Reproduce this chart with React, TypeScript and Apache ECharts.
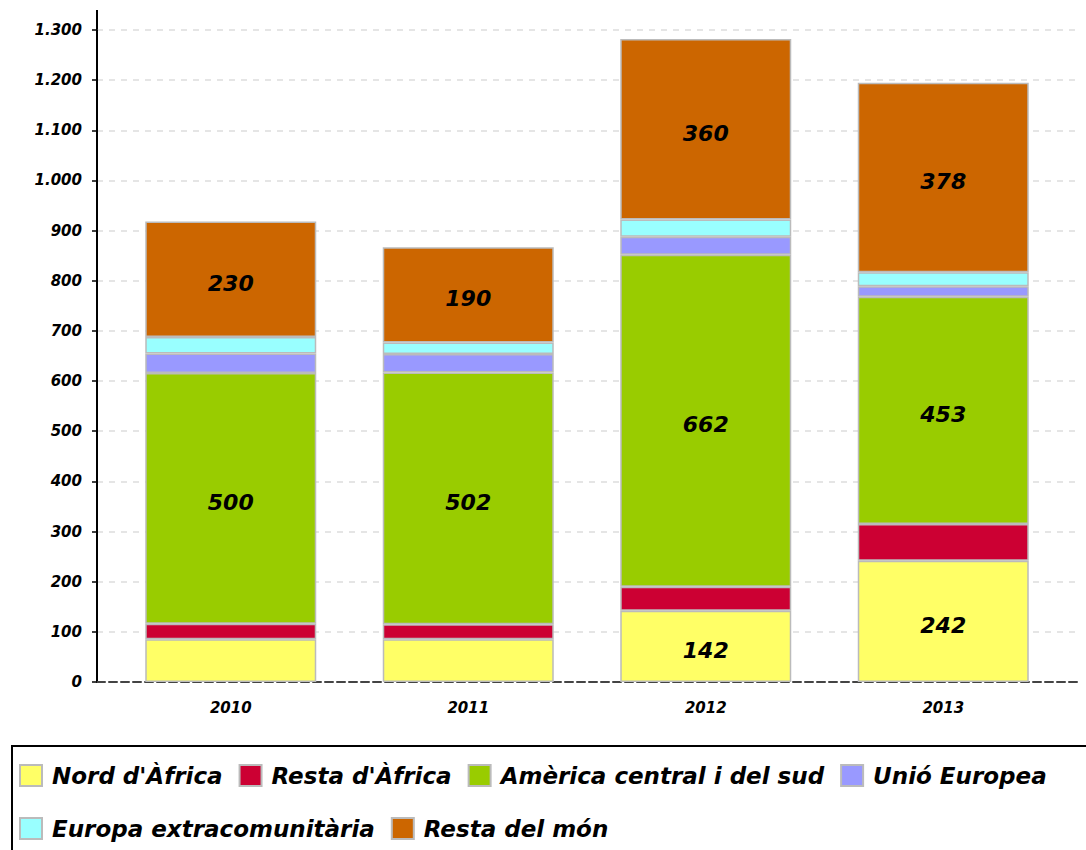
import React, { useEffect, useRef } from "react";
import * as echarts from "echarts";

const years = ["2010", "2011", "2012", "2013"];
const seriesNames = [
  "Nord d'Àfrica",
  "Resta d'Àfrica",
  "Amèrica central i del sud",
  "Unió Europea",
  "Europa extracomunitària",
  "Resta del món",
];
const nordAfrica = [85, 85, 142, 242];
const restaAfrica = [31, 30, 48, 73];
const americaCentralSud = [500, 502, 662, 453];
const unioEuropea = [39, 37, 36, 21];
const europaExtra = [33, 23, 34, 28];
const restaMon = [230, 190, 360, 378];
const colors = ["#FFFF66", "#CC0033", "#99CC00", "#9999FF", "#99FFFF", "#CC6600"];
const yTicks = { min: 0, max: 1300, interval: 100 };

const FONT = "DejaVu Sans";

function fmtThousands(v: number): string {
  return String(v).replace(/\B(?=(\d{3})+(?!\d))/g, ".");
}

export default function App() {
  const ref = useRef<HTMLDivElement>(null);
  useEffect(() => {
    if (!ref.current) return;
    const chart = echarts.init(ref.current, null, { renderer: "svg" });
    const values = [nordAfrica, restaAfrica, americaCentralSud, unioEuropea, europaExtra, restaMon];
    const series = values.map((vals, i) => ({
      name: seriesNames[i],
      type: "bar",
      stack: "total",
      xAxisIndex: 1,
      yAxisIndex: 1,
      barWidth: "72%",
      data: vals,
      itemStyle: { color: colors[i], borderColor: "#bbbbbb", borderWidth: 1.5 },
      label: {
        show: true,
        position: "inside",
        offset: [0, 4],
        formatter: (p: any) => (p.value >= 100 ? String(p.value) : ""),
        color: "#000",
        fontFamily: FONT,
        fontWeight: "bold",
        fontStyle: "italic",
        fontSize: 22,
      },
    }));
    const legendCommon = {
      orient: "horizontal",
      padding: 0,
      itemWidth: 22,
      itemHeight: 21,
      itemGap: 16,
      icon: "rect",
      textStyle: {
        fontFamily: FONT,
        fontWeight: "bold",
        fontStyle: "italic",
        fontSize: 23,
        color: "#000",
        padding: [0, 0, 0, 5],
      },
    };
    chart.setOption({
      animation: false,
      backgroundColor: "#ffffff",
      grid: [
        { left: 97, right: 6, top: 30, bottom: 168 },
        { left: 112, right: 24, top: 30, bottom: 168 },
      ],
      xAxis: [
        {
          type: "value",
          gridIndex: 0,
          min: 0,
          max: 1,
          axisLine: { show: true, lineStyle: { color: "#444", width: 2, type: "dashed" } },
          axisTick: { show: false },
          axisLabel: { show: false },
          splitLine: { show: false },
        },
        {
          type: "category",
          gridIndex: 1,
          data: years,
          axisLine: { show: false },
          axisTick: { show: false },
          axisLabel: {
            margin: 18,
            fontFamily: FONT,
            fontWeight: "bold",
            fontStyle: "italic",
            fontSize: 15,
            color: "#000",
          },
        },
      ],
      yAxis: [
        {
          type: "value",
          gridIndex: 0,
          min: yTicks.min,
          max: yTicks.max,
          interval: yTicks.interval,
          axisLine: { show: true, lineStyle: { color: "#000", width: 2 } },
          axisTick: { show: true, length: 5, lineStyle: { color: "#000", width: 1.5 } },
          axisLabel: {
            margin: 15,
            formatter: (v: number) => fmtThousands(v),
            fontFamily: FONT,
            fontWeight: "bold",
            fontStyle: "italic",
            fontSize: 15,
            color: "#000",
          },
          splitLine: { show: true, lineStyle: { color: "#dddddd", type: [6, 6], width: 1.5 } },
        },
        {
          type: "value",
          gridIndex: 1,
          min: yTicks.min,
          max: yTicks.max,
          interval: yTicks.interval,
          show: false,
          splitLine: { show: false },
        },
      ],
      legend: [
        { ...legendCommon, data: seriesNames.slice(0, 4), left: 19, top: 764 },
        { ...legendCommon, data: seriesNames.slice(4), left: 19, top: 817 },
      ],
      graphic: [
        {
          type: "line",
          shape: { x1: 97, y1: 10, x2: 97, y2: 31 },
          style: { stroke: "#000", lineWidth: 2 },
        },
        {
          type: "rect",
          shape: { x: 12, y: 746, width: 1100, height: 130 },
          style: { fill: "none", stroke: "#000", lineWidth: 2 },
        },
      ],
      series,
    });
    return () => chart.dispose();
  }, []);
  return (
    <div
      ref={ref}
      style={{ position: "fixed", left: 0, top: 0, width: 1086, height: 850 }}
    />
  );
}
